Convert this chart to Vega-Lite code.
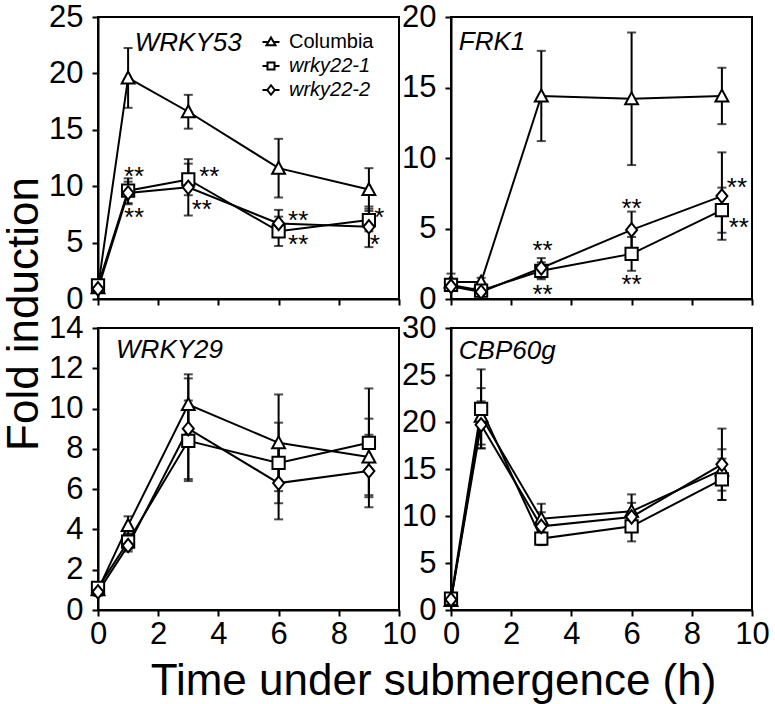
{
  "$schema": "https://vega.github.io/schema/vega-lite/v6.json",
  "padding": {"left": 1, "top": 0, "right": 5, "bottom": 0},
  "background": "white",
  "datasets": {
    "main": [
      {"gene": "WRKY53", "series": "Columbia", "t": 0, "y": 1.0, "e": 0.3},
      {"gene": "WRKY53", "series": "Columbia", "t": 1, "y": 19.6, "e": 2.65},
      {"gene": "WRKY53", "series": "Columbia", "t": 3, "y": 16.6, "e": 1.5},
      {"gene": "WRKY53", "series": "Columbia", "t": 6, "y": 11.6, "e": 2.6},
      {"gene": "WRKY53", "series": "Columbia", "t": 9, "y": 9.7, "e": 1.9},
      {"gene": "WRKY53", "series": "wrky22-1", "t": 0, "y": 1.2, "e": 0.4},
      {"gene": "WRKY53", "series": "wrky22-1", "t": 1, "y": 9.6, "e": 1.1},
      {"gene": "WRKY53", "series": "wrky22-1", "t": 3, "y": 10.6, "e": 1.4},
      {"gene": "WRKY53", "series": "wrky22-1", "t": 6, "y": 6.0, "e": 1.3},
      {"gene": "WRKY53", "series": "wrky22-1", "t": 9, "y": 7.0, "e": 1.0},
      {"gene": "WRKY53", "series": "wrky22-2", "t": 0, "y": 0.9, "e": 0.3},
      {"gene": "WRKY53", "series": "wrky22-2", "t": 1, "y": 9.4, "e": 1.0},
      {"gene": "WRKY53", "series": "wrky22-2", "t": 3, "y": 9.9, "e": 2.5},
      {"gene": "WRKY53", "series": "wrky22-2", "t": 6, "y": 6.7, "e": 1.2},
      {"gene": "WRKY53", "series": "wrky22-2", "t": 9, "y": 6.4, "e": 1.8},
      {"gene": "FRK1", "series": "Columbia", "t": 0, "y": 1.2, "e": 0.6},
      {"gene": "FRK1", "series": "Columbia", "t": 1, "y": 1.2, "e": 0.3},
      {"gene": "FRK1", "series": "Columbia", "t": 3, "y": 14.4, "e": 3.2},
      {"gene": "FRK1", "series": "Columbia", "t": 6, "y": 14.2, "e": 4.7},
      {"gene": "FRK1", "series": "Columbia", "t": 9, "y": 14.4, "e": 2.0},
      {"gene": "FRK1", "series": "wrky22-1", "t": 0, "y": 1.0, "e": 0.4},
      {"gene": "FRK1", "series": "wrky22-1", "t": 1, "y": 0.6, "e": 0.2},
      {"gene": "FRK1", "series": "wrky22-1", "t": 3, "y": 2.0, "e": 0.6},
      {"gene": "FRK1", "series": "wrky22-1", "t": 6, "y": 3.2, "e": 1.2},
      {"gene": "FRK1", "series": "wrky22-1", "t": 9, "y": 6.3, "e": 1.6},
      {"gene": "FRK1", "series": "wrky22-2", "t": 0, "y": 0.9, "e": 0.3},
      {"gene": "FRK1", "series": "wrky22-2", "t": 1, "y": 0.5, "e": 0.2},
      {"gene": "FRK1", "series": "wrky22-2", "t": 3, "y": 2.2, "e": 0.7},
      {"gene": "FRK1", "series": "wrky22-2", "t": 6, "y": 4.9, "e": 1.3},
      {"gene": "FRK1", "series": "wrky22-2", "t": 9, "y": 7.3, "e": 3.1},
      {"gene": "WRKY29", "series": "Columbia", "t": 0, "y": 1.0, "e": 0.2},
      {"gene": "WRKY29", "series": "Columbia", "t": 1, "y": 4.2, "e": 0.45},
      {"gene": "WRKY29", "series": "Columbia", "t": 3, "y": 10.2, "e": 1.5},
      {"gene": "WRKY29", "series": "Columbia", "t": 6, "y": 8.3, "e": 2.4},
      {"gene": "WRKY29", "series": "Columbia", "t": 9, "y": 7.6, "e": 1.9},
      {"gene": "WRKY29", "series": "wrky22-1", "t": 0, "y": 1.1, "e": 0.2},
      {"gene": "WRKY29", "series": "wrky22-1", "t": 1, "y": 3.4, "e": 0.4},
      {"gene": "WRKY29", "series": "wrky22-1", "t": 3, "y": 8.4, "e": 2.0},
      {"gene": "WRKY29", "series": "wrky22-1", "t": 6, "y": 7.3, "e": 2.0},
      {"gene": "WRKY29", "series": "wrky22-1", "t": 9, "y": 8.3, "e": 2.7},
      {"gene": "WRKY29", "series": "wrky22-2", "t": 0, "y": 0.9, "e": 0.2},
      {"gene": "WRKY29", "series": "wrky22-2", "t": 1, "y": 3.2, "e": 0.3},
      {"gene": "WRKY29", "series": "wrky22-2", "t": 3, "y": 9.0, "e": 2.5},
      {"gene": "WRKY29", "series": "wrky22-2", "t": 6, "y": 6.3, "e": 1.8},
      {"gene": "WRKY29", "series": "wrky22-2", "t": 9, "y": 6.9, "e": 1.8},
      {"gene": "CBP60g", "series": "Columbia", "t": 0, "y": 1.0, "e": 0.5},
      {"gene": "CBP60g", "series": "Columbia", "t": 1, "y": 20.6, "e": 3.0},
      {"gene": "CBP60g", "series": "Columbia", "t": 3, "y": 9.7, "e": 1.6},
      {"gene": "CBP60g", "series": "Columbia", "t": 6, "y": 10.5, "e": 1.8},
      {"gene": "CBP60g", "series": "Columbia", "t": 9, "y": 14.9, "e": 2.2},
      {"gene": "CBP60g", "series": "wrky22-1", "t": 0, "y": 1.2, "e": 0.6},
      {"gene": "CBP60g", "series": "wrky22-1", "t": 1, "y": 21.4, "e": 4.2},
      {"gene": "CBP60g", "series": "wrky22-1", "t": 3, "y": 7.6, "e": 0.7},
      {"gene": "CBP60g", "series": "wrky22-1", "t": 6, "y": 8.9, "e": 1.6},
      {"gene": "CBP60g", "series": "wrky22-1", "t": 9, "y": 13.9, "e": 2.2},
      {"gene": "CBP60g", "series": "wrky22-2", "t": 0, "y": 1.1, "e": 0.4},
      {"gene": "CBP60g", "series": "wrky22-2", "t": 1, "y": 19.7, "e": 2.5},
      {"gene": "CBP60g", "series": "wrky22-2", "t": 3, "y": 8.9, "e": 1.5},
      {"gene": "CBP60g", "series": "wrky22-2", "t": 6, "y": 9.9, "e": 1.5},
      {"gene": "CBP60g", "series": "wrky22-2", "t": 9, "y": 15.5, "e": 3.8}
    ],
    "stars": [
      {"gene": "WRKY53", "t": 1.2, "y": 11.4, "label": "**"},
      {"gene": "WRKY53", "t": 1.2, "y": 7.8, "label": "**"},
      {"gene": "WRKY53", "t": 3.7, "y": 11.4, "label": "**"},
      {"gene": "WRKY53", "t": 3.45, "y": 8.5, "label": "**"},
      {"gene": "WRKY53", "t": 6.65, "y": 7.5, "label": "**"},
      {"gene": "WRKY53", "t": 6.65, "y": 5.4, "label": "**"},
      {"gene": "WRKY53", "t": 9.35, "y": 7.8, "label": "*"},
      {"gene": "WRKY53", "t": 9.2, "y": 5.4, "label": "*"},
      {"gene": "FRK1", "t": 3.04, "y": 3.9, "label": "**"},
      {"gene": "FRK1", "t": 3.04, "y": 0.8, "label": "**"},
      {"gene": "FRK1", "t": 6.0, "y": 6.9, "label": "**"},
      {"gene": "FRK1", "t": 6.0, "y": 1.5, "label": "**"},
      {"gene": "FRK1", "t": 9.5, "y": 8.4, "label": "**"},
      {"gene": "FRK1", "t": 9.56, "y": 5.5, "label": "**"}
    ]
  },
  "columns": 2,
  "bounds": "flush",
  "spacing": {"row": 29, "column": 52},
  "concat": [
    {
      "width": 301, "height": 282,
      "encoding": {
        "x": {"field": "t", "type": "quantitative", "scale": {"domain": [0, 10], "nice": false}, "axis": {"values": [0, 2, 4, 6, 8, 10], "labels": false, "title": null}},
        "y": {"field": "y", "type": "quantitative", "scale": {"domain": [0, 25], "nice": false}, "axis": {"values": [0, 5, 10, 15, 20, 25], "title": "Fold induction", "titleFontSize": 44, "titleX": -61, "titleY": 296.5, "titleAlign": "center", "titleBaseline": "alphabetic", "titleAngle": -90}}
      },
      "layer": [
        {"data": {"name": "main"}, "transform": [{"filter": "datum.gene === 'WRKY53'"}], "mark": {"type": "errorbar", "ticks": true, "size": 9, "thickness": 2, "color": "black"}, "encoding": {"yError": {"field": "e"}}},
        {"data": {"name": "main"}, "transform": [{"filter": "datum.gene === 'WRKY53'"}], "mark": {"type": "line", "color": "black", "strokeWidth": 2}, "encoding": {"detail": {"field": "series"}}},
        {"data": {"name": "main"}, "transform": [{"filter": "datum.gene === 'WRKY53'"}], "mark": {"type": "point", "filled": true, "fill": "white", "stroke": "black", "strokeWidth": 2, "size": 150, "opacity": 1},
         "encoding": {"shape": {"field": "series", "type": "nominal", "scale": {"domain": ["Columbia", "wrky22-1", "wrky22-2"], "range": ["M0,-1.05L1.05,0.9L-1.05,0.9Z", "M-1,-1H1V1H-1Z", "M0,-1.1L0.9,0L0,1.1L-0.9,0Z"]}, "legend": null}}},
        {"data": {"name": "main"}, "transform": [{"filter": "datum.gene === 'WRKY53' && datum.series === 'Columbia'"}], "mark": {"type": "point", "filled": false, "strokeWidth": 2, "size": 0},
         "encoding": {"color": {"field": "series", "type": "nominal", "scale": {"domain": ["Columbia"], "range": ["black"]},
           "legend": {"title": null, "orient": "none", "legendX": 163, "legendY": 15, "symbolType": "M-1.7,0H-0.5M0.5,0H1.7M0,-0.9L0.9,0.65L-0.9,0.65Z", "labelFont": "Liberation Sans", "labelFontSize": 20, "labelFontStyle": "normal", "labelColor": "black", "symbolSize": 100, "symbolStrokeWidth": 2, "symbolStrokeColor": "black", "symbolFillColor": "white", "symbolOpacity": 1, "labelOffset": 8, "padding": 0}}}},
        {"data": {"name": "main"}, "transform": [{"filter": "datum.gene === 'WRKY53' && datum.series === 'wrky22-1'"}], "mark": {"type": "point", "filled": false, "strokeWidth": 2, "size": 0},
         "encoding": {"stroke": {"field": "series", "type": "nominal", "scale": {"domain": ["wrky22-1"], "range": ["black"]},
           "legend": {"title": null, "orient": "none", "legendX": 163, "legendY": 39, "symbolType": "M-1.7,0H-0.7M0.7,0H1.7M-0.7,-0.7H0.7V0.7H-0.7Z", "labelFont": "Liberation Sans", "labelFontSize": 20, "labelFontStyle": "italic", "labelColor": "black", "symbolSize": 100, "symbolStrokeWidth": 2, "symbolFillColor": "white", "symbolOpacity": 1, "labelOffset": 8, "padding": 0}}}},
        {"data": {"name": "main"}, "transform": [{"filter": "datum.gene === 'WRKY53' && datum.series === 'wrky22-2'"}], "mark": {"type": "point", "filled": false, "strokeWidth": 2, "size": 0},
         "encoding": {"fill": {"field": "series", "type": "nominal", "scale": {"domain": ["wrky22-2"], "range": ["white"]},
           "legend": {"title": null, "orient": "none", "legendX": 163, "legendY": 63, "symbolType": "M-1.7,0H-0.75M0.75,0H1.7M-0.75,0L0,-0.95L0.75,0L0,0.95Z", "labelFont": "Liberation Sans", "labelFontSize": 20, "labelFontStyle": "italic", "labelColor": "black", "symbolSize": 100, "symbolStrokeWidth": 2, "symbolStrokeColor": "black", "symbolOpacity": 1, "labelOffset": 8, "padding": 0}}}},
        {"data": {"name": "stars"}, "transform": [{"filter": "datum.gene === 'WRKY53'"}], "mark": {"type": "text", "fontSize": 26, "font": "Liberation Sans", "color": "black", "baseline": "alphabetic", "dy": 15}, "encoding": {"text": {"field": "label"}}},
        {"data": {"name": "main"}, "transform": [{"filter": "datum.gene === 'WRKY53' && datum.series === 'Columbia' && datum.t === 0"}], "mark": {"type": "text", "fontSize": 26, "fontStyle": "italic", "font": "Liberation Sans", "color": "black", "align": "left", "baseline": "alphabetic"}, "encoding": {"x": {"datum": 1.22}, "y": {"datum": 22.0}, "text": {"field": "gene"}}}
      ],
      "resolve": {"scale": {"color": "independent", "stroke": "independent", "fill": "independent"}, "legend": {"color": "independent", "stroke": "independent", "fill": "independent"}}
    },
    {
      "width": 301, "height": 282,
      "encoding": {
        "x": {"field": "t", "type": "quantitative", "scale": {"domain": [0, 10], "nice": false}, "axis": {"values": [0, 2, 4, 6, 8, 10], "labels": false, "title": null}},
        "y": {"field": "y", "type": "quantitative", "scale": {"domain": [0, 20], "nice": false}, "axis": {"values": [0, 5, 10, 15, 20], "title": null}}
      },
      "layer": [
        {"data": {"name": "main"}, "transform": [{"filter": "datum.gene === 'FRK1'"}], "mark": {"type": "errorbar", "ticks": true, "size": 9, "thickness": 2, "color": "black"}, "encoding": {"yError": {"field": "e"}}},
        {"data": {"name": "main"}, "transform": [{"filter": "datum.gene === 'FRK1'"}], "mark": {"type": "line", "color": "black", "strokeWidth": 2}, "encoding": {"detail": {"field": "series"}}},
        {"data": {"name": "main"}, "transform": [{"filter": "datum.gene === 'FRK1'"}], "mark": {"type": "point", "filled": true, "fill": "white", "stroke": "black", "strokeWidth": 2, "size": 150, "opacity": 1},
         "encoding": {"shape": {"field": "series", "type": "nominal", "scale": {"domain": ["Columbia", "wrky22-1", "wrky22-2"], "range": ["M0,-1.05L1.05,0.9L-1.05,0.9Z", "M-1,-1H1V1H-1Z", "M0,-1.1L0.9,0L0,1.1L-0.9,0Z"]}, "legend": null}}},
        {"data": {"name": "stars"}, "transform": [{"filter": "datum.gene === 'FRK1'"}], "mark": {"type": "text", "fontSize": 26, "font": "Liberation Sans", "color": "black", "baseline": "alphabetic", "dy": 15}, "encoding": {"text": {"field": "label"}}},
        {"data": {"name": "main"}, "transform": [{"filter": "datum.gene === 'FRK1' && datum.series === 'Columbia' && datum.t === 0"}], "mark": {"type": "text", "fontSize": 26, "fontStyle": "italic", "font": "Liberation Sans", "color": "black", "align": "left", "baseline": "alphabetic"}, "encoding": {"x": {"datum": 0.26}, "y": {"datum": 17.65}, "text": {"field": "gene"}}}
      ]
    },
    {
      "width": 301, "height": 282,
      "encoding": {
        "x": {"field": "t", "type": "quantitative", "scale": {"domain": [0, 10], "nice": false}, "axis": {"values": [0, 2, 4, 6, 8, 10], "title": "Time under submergence (h)", "titleFontSize": 44, "titleX": 335, "titleY": 84, "titleAlign": "center", "titleBaseline": "alphabetic"}},
        "y": {"field": "y", "type": "quantitative", "scale": {"domain": [0, 14], "nice": false}, "axis": {"values": [0, 2, 4, 6, 8, 10, 12, 14], "title": null}}
      },
      "layer": [
        {"data": {"name": "main"}, "transform": [{"filter": "datum.gene === 'WRKY29'"}], "mark": {"type": "errorbar", "ticks": true, "size": 9, "thickness": 2, "color": "black"}, "encoding": {"yError": {"field": "e"}}},
        {"data": {"name": "main"}, "transform": [{"filter": "datum.gene === 'WRKY29'"}], "mark": {"type": "line", "color": "black", "strokeWidth": 2}, "encoding": {"detail": {"field": "series"}}},
        {"data": {"name": "main"}, "transform": [{"filter": "datum.gene === 'WRKY29'"}], "mark": {"type": "point", "filled": true, "fill": "white", "stroke": "black", "strokeWidth": 2, "size": 150, "opacity": 1},
         "encoding": {"shape": {"field": "series", "type": "nominal", "scale": {"domain": ["Columbia", "wrky22-1", "wrky22-2"], "range": ["M0,-1.05L1.05,0.9L-1.05,0.9Z", "M-1,-1H1V1H-1Z", "M0,-1.1L0.9,0L0,1.1L-0.9,0Z"]}, "legend": null}}},
        {"data": {"name": "main"}, "transform": [{"filter": "datum.gene === 'WRKY29' && datum.series === 'Columbia' && datum.t === 0"}], "mark": {"type": "text", "fontSize": 26, "fontStyle": "italic", "font": "Liberation Sans", "color": "black", "align": "left", "baseline": "alphabetic"}, "encoding": {"x": {"datum": 0.6}, "y": {"datum": 12.5}, "text": {"field": "gene"}}}
      ]
    },
    {
      "width": 301, "height": 282,
      "encoding": {
        "x": {"field": "t", "type": "quantitative", "scale": {"domain": [0, 10], "nice": false}, "axis": {"values": [0, 2, 4, 6, 8, 10], "title": null}},
        "y": {"field": "y", "type": "quantitative", "scale": {"domain": [0, 30], "nice": false}, "axis": {"values": [0, 5, 10, 15, 20, 25, 30], "title": null}}
      },
      "layer": [
        {"data": {"name": "main"}, "transform": [{"filter": "datum.gene === 'CBP60g'"}], "mark": {"type": "errorbar", "ticks": true, "size": 9, "thickness": 2, "color": "black"}, "encoding": {"yError": {"field": "e"}}},
        {"data": {"name": "main"}, "transform": [{"filter": "datum.gene === 'CBP60g'"}], "mark": {"type": "line", "color": "black", "strokeWidth": 2}, "encoding": {"detail": {"field": "series"}}},
        {"data": {"name": "main"}, "transform": [{"filter": "datum.gene === 'CBP60g'"}], "mark": {"type": "point", "filled": true, "fill": "white", "stroke": "black", "strokeWidth": 2, "size": 150, "opacity": 1},
         "encoding": {"shape": {"field": "series", "type": "nominal", "scale": {"domain": ["Columbia", "wrky22-1", "wrky22-2"], "range": ["M0,-1.05L1.05,0.9L-1.05,0.9Z", "M-1,-1H1V1H-1Z", "M0,-1.1L0.9,0L0,1.1L-0.9,0Z"]}, "legend": null}}},
        {"data": {"name": "main"}, "transform": [{"filter": "datum.gene === 'CBP60g' && datum.series === 'Columbia' && datum.t === 0"}], "mark": {"type": "text", "fontSize": 26, "fontStyle": "italic", "font": "Liberation Sans", "color": "black", "align": "left", "baseline": "alphabetic"}, "encoding": {"x": {"datum": 0.26}, "y": {"datum": 26.7}, "text": {"field": "gene"}}}
      ]
    }
  ],
  "resolve": {
    "scale": {"x": "independent", "y": "independent", "shape": "independent", "color": "independent", "stroke": "independent", "fill": "independent"},
    "axis": {"x": "independent", "y": "independent"},
    "legend": {"shape": "independent", "color": "independent", "stroke": "independent", "fill": "independent"}
  },
  "config": {
    "font": "Liberation Sans",
    "view": {"stroke": "black", "strokeWidth": 2},
    "axis": {
      "grid": false, "domainColor": "black", "domainWidth": 2, "tickColor": "black", "tickWidth": 2, "tickSize": 6,
      "labelFont": "Liberation Sans", "labelFontSize": 31, "labelColor": "black",
      "labelFlush": false, "labelOverlap": false,
      "titleFont": "Liberation Sans", "titleFontWeight": "normal", "titleColor": "black"
    },
    "axisX": {"labelPadding": 3},
    "axisY": {"labelPadding": 9}
  }
}
